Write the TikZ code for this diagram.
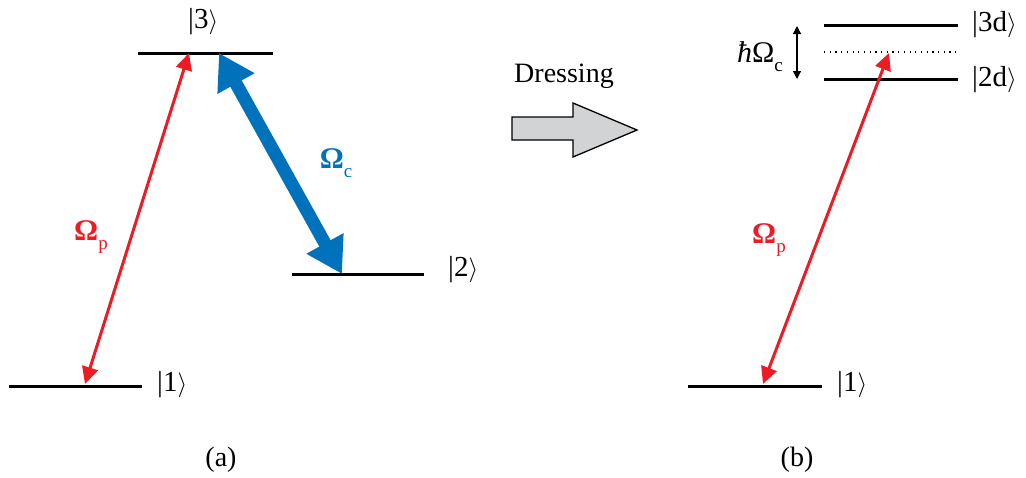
\documentclass[tikz,border=0pt]{standalone}
\usepackage{fontspec}
\setmainfont{Liberation Serif}
\usetikzlibrary{arrows.meta}
\definecolor{pred}{RGB}{237,28,36}
\definecolor{cblue}{RGB}{0,114,188}
\definecolor{agray}{RGB}{209,211,212}
\newcommand{\ketx}[1]{|#1\ensuremath{\rangle}}
\tikzset{
  level/.style={line width=3pt, black},
  ket/.style={anchor=west, inner sep=0pt, font=\fontsize{29}{31}\selectfont},
  lab/.style={inner sep=0pt, font=\fontsize{28}{30}\selectfont},
  probe/.style={pred, line width=3pt, {Triangle[length=17pt,width=16pt]}-{Triangle[length=17pt,width=16pt]}},
  coupl/.style={cblue, line width=13pt, {Triangle[length=35pt,width=40pt]}-{Triangle[length=35pt,width=40pt]}},
  omlab/.style={inner sep=0pt, font=\fontsize{30}{32}\selectfont\bfseries},
}
\newcommand{\subs}[1]{\raisebox{-0.3em}{\fontsize{19}{19}\mdseries\selectfont #1}}
\begin{document}
\begin{tikzpicture}[x=1pt,y=-1pt]
\useasboundingbox (0,0) rectangle (1026,477);
% ---------- (a) ----------
\coordinate (L1a) at (9,386);   \coordinate (L1b) at (142,386);
\coordinate (L3a) at (138,53);  \coordinate (L3b) at (273,53);
\coordinate (L2a) at (292,274); \coordinate (L2b) at (424,274);
\draw[level] (L1a) -- (L1b);
\draw[level] (L3a) -- (L3b);
\draw[level] (L2a) -- (L2b);
\node[ket] (k1) at (157,385) {\ketx{1}};
\node[ket] (k3) at (188,22) {\ketx{3}};
\node[ket] (k2) at (448,270) {\ketx{2}};
\coordinate (p1) at (85,384);
\coordinate (p3) at (189,53);
\coordinate (c3) at (219,53);
\coordinate (c2) at (342,274);
\draw[probe] (p1) -- (p3);
\draw[coupl] (c3) -- (c2);
\node[omlab, text=pred] (omp) at (91,237) {Ω\subs{p}};
\node[omlab, text=cblue] (omc) at (336,163) {Ω\subs{c}};
\node[lab] (la) at (221,460) {(a)};
% ---------- Dressing arrow ----------
\node[lab] (dress) at (564,76) {Dressing};
\draw[line width=1.3pt, fill=agray, line join=miter]
  (512,117) -- (573,117) -- (573,103) -- (637,130) -- (573,157) -- (573,140) -- (512,140) -- cycle;
% ---------- (b) ----------
\coordinate (M1a) at (688,386); \coordinate (M1b) at (822,386);
\coordinate (D3a) at (824,25);  \coordinate (D3b) at (958,25);
\coordinate (D2a) at (824,79);  \coordinate (D2b) at (958,79);
\coordinate (Dda) at (824,52);  \coordinate (Ddb) at (956,52);
\draw[level] (M1a) -- (M1b);
\draw[level] (D3a) -- (D3b);
\draw[level] (D2a) -- (D2b);
\draw[line width=1.2pt, dash pattern=on 1.2pt off 4.5pt] (Dda) -- (Ddb);
\node[ket] (m1) at (837,385) {\ketx{1}};
\node[ket] (d3) at (972,25) {\ketx{3d}};
\node[ket] (d2) at (972,80) {\ketx{2d}};
\coordinate (q1) at (763,384);
\coordinate (q3) at (889,53);
\draw[probe] (q1) -- (q3);
\node[omlab, text=pred] (omp2) at (769,240) {Ω\subs{p}};
\coordinate (h1) at (797,26);
\coordinate (h2) at (797,79);
\draw[line width=1.2pt, {Triangle[length=8pt,width=8pt]}-{Triangle[length=8pt,width=8pt]}] (h1) -- (h2);
\node[inner sep=0pt, font=\fontsize{30}{32}\selectfont] (hb) at (760,57) {\textit{ħ}Ω\subs{c}};
\node[lab] (lb) at (797,460) {(b)};
\end{tikzpicture}
\end{document}
